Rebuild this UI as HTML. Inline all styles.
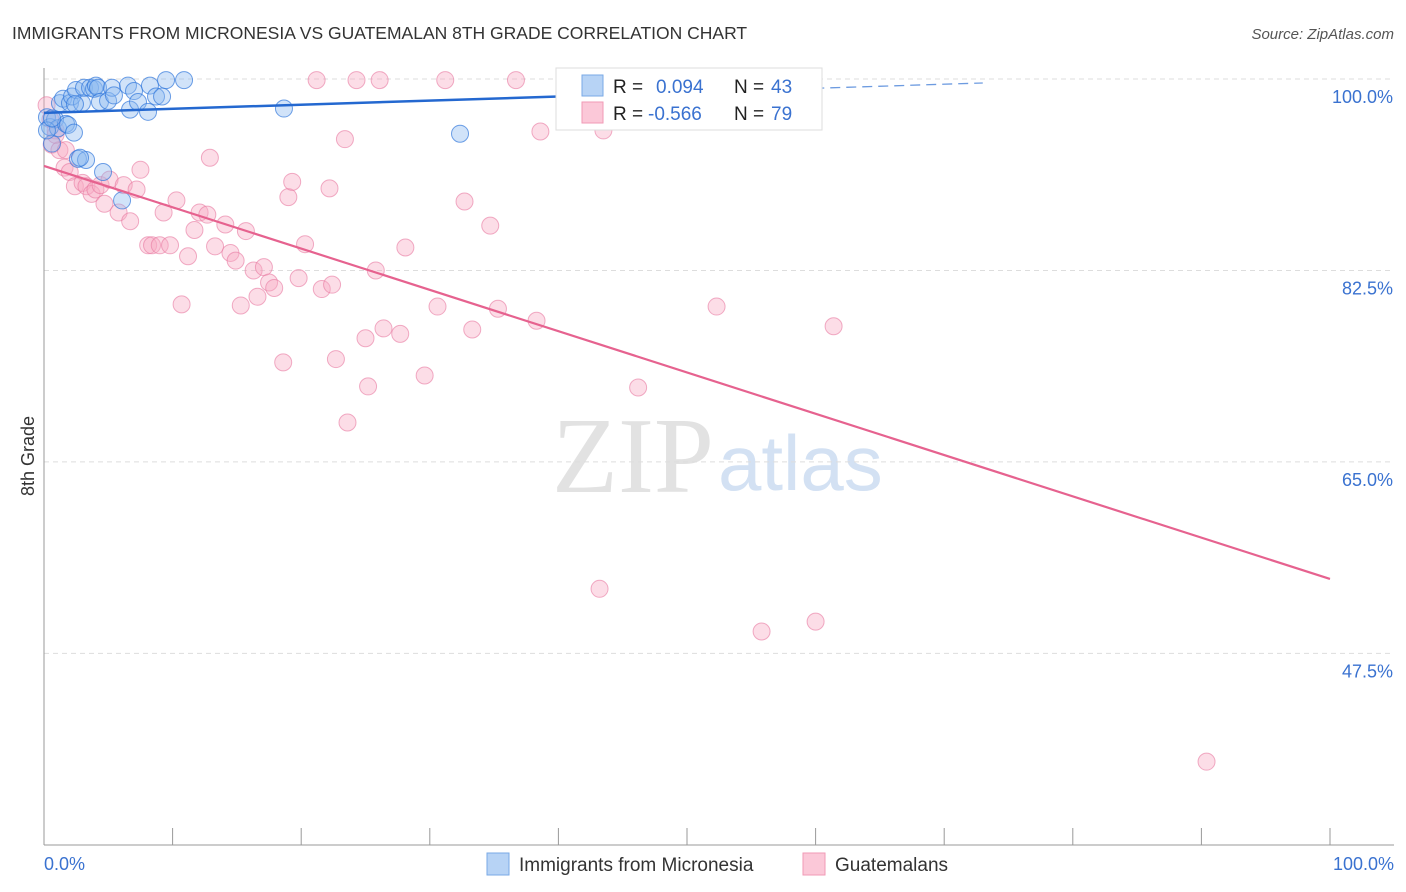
<!DOCTYPE html>
<html><head><meta charset="utf-8"><style>
body{margin:0;background:#fff;font-family:"Liberation Sans",sans-serif;}
svg{display:block}
</style></head><body>
<svg id="c" width="1406" height="892">
<text x="12" y="39" font-size="17.5" fill="#333">IMMIGRANTS FROM MICRONESIA VS GUATEMALAN 8TH GRADE CORRELATION CHART</text>
<text x="1394" y="39" font-size="15" fill="#555" font-style="italic" text-anchor="end">Source: ZipAtlas.com</text>
<text x="714" y="492" font-size="108" fill="#e2e2e2" text-anchor="end" font-family="Liberation Serif">ZIP</text>
<text x="718" y="490" font-size="78" fill="#d3e1f3">atlas</text>
<g id="grid"></g><g id="axes"></g><g id="pts"></g><g id="lines"></g>
<text transform="translate(34,456) rotate(-90)" font-size="18" fill="#333" text-anchor="middle">8th Grade</text>
<g>
<rect x="556" y="68" width="266" height="62" fill="#fff" stroke="#ddd"/>
<rect x="582" y="75" width="21" height="21" fill="#b7d3f5" stroke="#7aa9e6"/>
<rect x="582" y="102" width="21" height="21" fill="#fbc8d8" stroke="#f09ab6"/>
<text x="613" y="93" font-size="19" fill="#222">R = </text><text x="656" y="93" font-size="19" fill="#3a72d0">0.094</text>
<text x="734" y="93" font-size="19" fill="#222">N = </text><text x="771" y="93" font-size="19" fill="#3a72d0">43</text>
<text x="613" y="120" font-size="19" fill="#222">R = </text><text x="648" y="120" font-size="19" fill="#3a72d0">-0.566</text>
<text x="734" y="120" font-size="19" fill="#222">N = </text><text x="771" y="120" font-size="19" fill="#3a72d0">79</text>
</g>
<g>
<rect x="487" y="853" width="22" height="22" fill="#b7d3f5" stroke="#7aa9e6"/>
<text x="519" y="871" font-size="19" fill="#333">Immigrants from Micronesia</text>
<rect x="803" y="853" width="22" height="22" fill="#fbc8d8" stroke="#f09ab6"/>
<text x="835" y="871" font-size="19" fill="#333">Guatemalans</text>
</g>
</svg>
<script>
const yTicks=[100,82.5,65,47.5];
const yTickLabels=["100.0%","82.5%","65.0%","47.5%"];
const blueX=[0.23,0.47,0.62,0.86,1.09,1.24,1.48,1.71,1.87,2.02,2.18,2.33,2.49,2.64,2.95,3.11,3.27,3.58,3.89,4.04,4.2,4.35,4.59,4.98,5.29,5.44,6.07,6.53,6.69,7.0,7.31,8.09,8.24,8.71,9.18,9.49,10.89,18.66,32.35,0.23,0.62,2.8,2.41];
const blueY=[96.5,95.6,94.1,96.3,95.5,97.8,98.2,95.9,95.8,97.8,98.4,95.1,99.0,92.7,97.8,99.2,92.6,99.2,99.1,99.4,99.2,97.9,91.5,98.0,99.2,98.5,88.9,99.4,97.2,98.9,97.9,97.0,99.4,98.4,98.4,99.9,99.9,97.3,95.0,95.3,96.4,92.8,97.7];
const pinkX=[21.2,24.3,26.1,31.2,36.7,58.6,0.2,0.5,0.6,0.9,1.2,1.6,2.0,2.4,3.0,3.3,3.7,4.0,4.4,4.7,5.1,5.8,6.2,6.7,7.2,7.5,8.1,8.4,9.0,9.3,9.8,10.3,10.7,11.2,11.7,12.1,12.7,12.9,13.3,14.1,14.5,14.9,15.3,15.7,16.3,16.6,17.1,17.5,17.9,18.6,19.0,19.3,19.8,20.3,21.6,22.2,22.4,22.7,23.4,23.6,25.0,25.2,25.8,26.4,27.7,28.1,29.6,30.6,32.7,33.3,34.7,35.3,38.3,38.6,43.2,43.5,46.2,52.3,55.8,60.0,61.4,90.4,0.9,1.7];
const pinkY=[99.9,99.9,99.9,99.9,99.9,99.9,97.6,96.3,94.0,95.3,93.5,91.9,91.5,90.2,90.5,90.2,89.5,89.9,90.3,88.6,90.8,87.8,90.3,87.0,89.9,91.7,84.8,84.8,84.8,87.8,84.8,88.9,79.4,83.8,86.2,87.8,87.6,92.8,84.7,86.7,84.1,83.4,79.3,86.1,82.5,80.1,82.8,81.4,80.9,74.1,89.2,90.6,81.8,84.9,80.8,90.0,81.2,74.4,94.5,68.6,76.3,71.9,82.5,77.2,76.7,84.6,72.9,79.2,88.8,77.1,86.6,79.0,77.9,95.2,53.4,95.3,71.8,79.2,49.5,50.4,77.4,37.6,94.9,93.5];
const blueFit=[96.9,98.4];
const pinkFit=[92.05,54.3];
const NS="http://www.w3.org/2000/svg";
const X=v=>44+v*12.86, Y=v=>79+(100-v)*10.94;
function mk(t,a,p){const e=document.createElementNS(NS,t);for(const k in a)e.setAttribute(k,a[k]);p.appendChild(e);return e;}
const grid=document.getElementById('grid'),axes=document.getElementById('axes'),pts=document.getElementById('pts'),lines=document.getElementById('lines');
yTicks.forEach((v,i)=>{
 const g=mk('line',{x1:44,x2:1394,y1:Y(v),y2:Y(v),stroke:'#ddd','stroke-dasharray':'5,4'},grid);
 
 
 const t=mk('text',{x:1393,y:Y(v)+24,'font-size':18,fill:'#3a72d0','text-anchor':'end'},axes);
 t.textContent=yTickLabels[i];
 
 
});
const ya=mk('line',{x1:44,x2:44,y1:68,y2:845,stroke:'#999'},axes);


const xa=mk('line',{x1:44,x2:1394,y1:845,y2:845,stroke:'#999'},axes);


for(let k=0;k<=10;k++){const tk=mk('line',{x1:X(k*10),x2:X(k*10),y1:828,y2:845,stroke:'#999'},axes);
 
 }
const l0=mk('text',{x:44,y:870,'font-size':18,fill:'#3a72d0'},axes);l0.textContent='0.0%';


const l1=mk('text',{x:1394,y:870,'font-size':18,fill:'#3a72d0','text-anchor':'end'},axes);l1.textContent='100.0%';


pinkX.forEach((x,i)=>{const c=mk('circle',{cx:X(x),cy:Y(pinkY[i]),r:8.5,fill:'rgba(248,170,195,0.4)',stroke:'rgba(232,120,160,0.6)'},pts);
 
 });
blueX.forEach((x,i)=>{const c=mk('circle',{cx:X(x),cy:Y(blueY[i]),r:8.5,fill:'rgba(140,185,240,0.4)',stroke:'rgba(50,120,220,0.7)'},pts);
 
 });
const slope=(blueFit[1]-blueFit[0])/40;
const bl=mk('line',{x1:X(0),y1:Y(blueFit[0]),x2:X(40),y2:Y(blueFit[1]),stroke:'#2468d0','stroke-width':2.5},lines);


const bd=mk('line',{x1:X(40),y1:Y(blueFit[1]),x2:X(73),y2:Y(blueFit[0]+slope*73),stroke:'#6d9be0','stroke-width':1.3,'stroke-dasharray':'10,6'},lines);


const pl=mk('line',{x1:X(0),y1:Y(pinkFit[0]),x2:X(100),y2:Y(pinkFit[1]),stroke:'#e6628f','stroke-width':2.2},lines);


</script>
</body></html>
